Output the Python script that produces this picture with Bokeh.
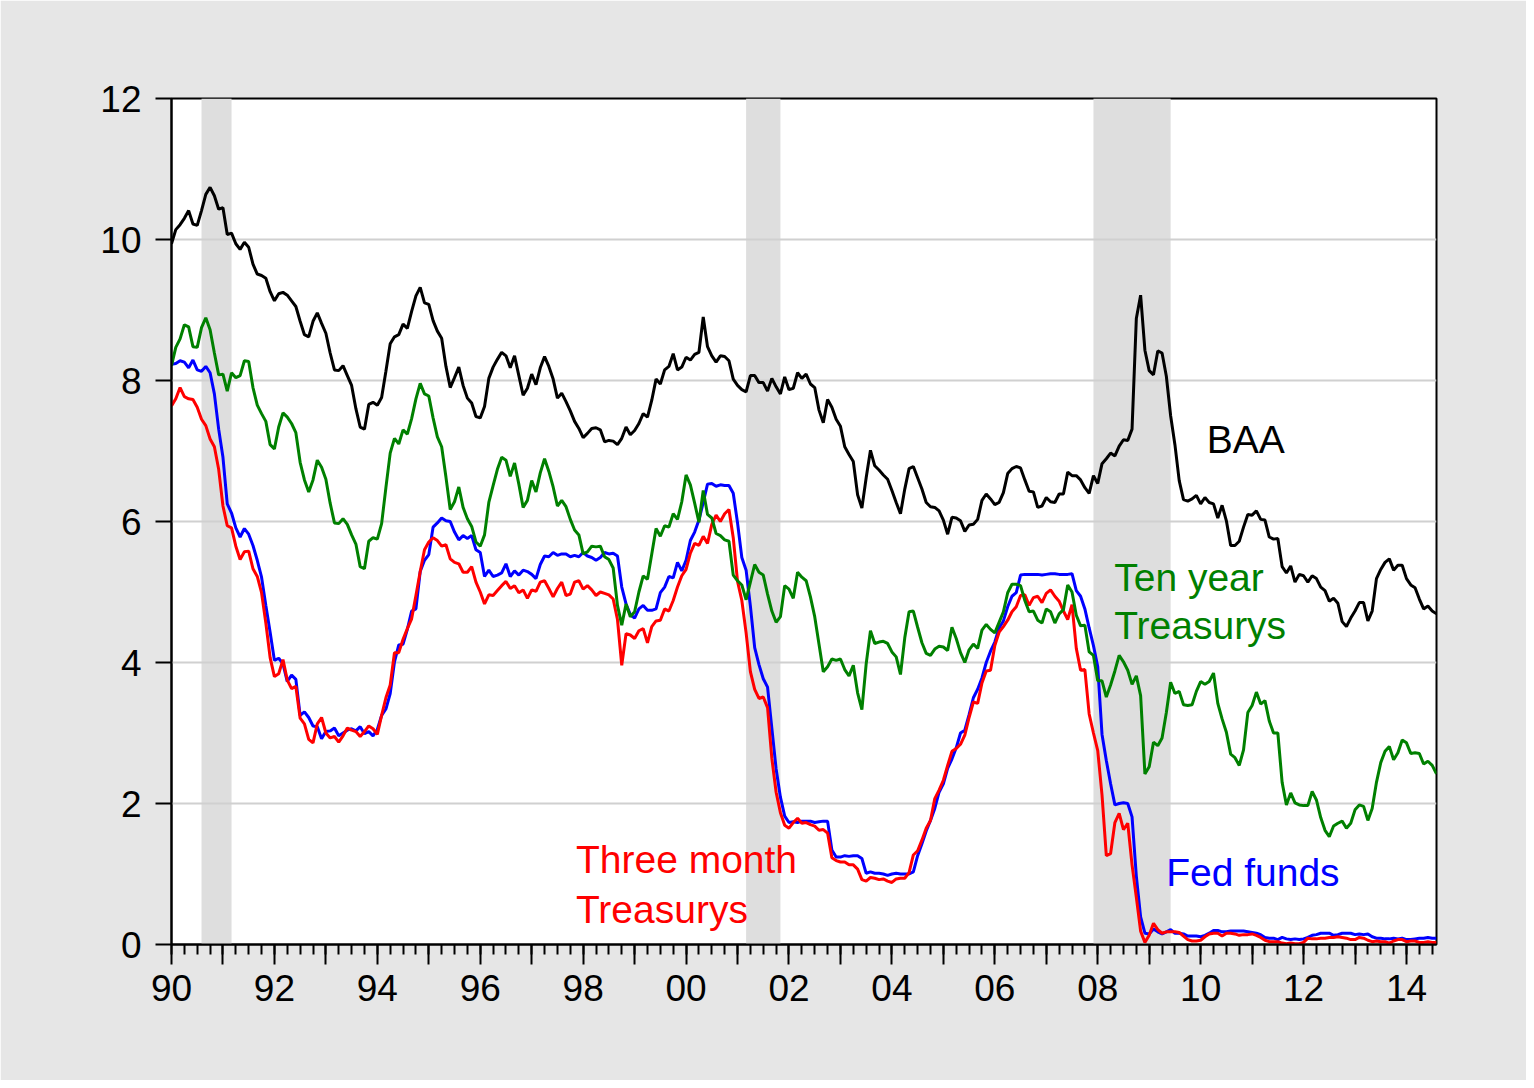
from bokeh.plotting import figure
from bokeh.models import Range1d, FixedTicker, Label
from bokeh.embed import file_html
from bokeh.resources import INLINE

# Monthly data, 1990M01 - 2014M08
baa = [
    9.94, 10.14, 10.21, 10.30, 10.41, 10.22, 10.20, 10.41, 10.64, 10.74, 10.62, 10.43,
    10.45, 10.07, 10.09, 9.94, 9.86, 9.96, 9.89, 9.65, 9.51, 9.49, 9.45, 9.26,
    9.13, 9.23, 9.25, 9.21, 9.13, 9.05, 8.84, 8.65, 8.62, 8.84, 8.96, 8.81,
    8.67, 8.39, 8.15, 8.14, 8.21, 8.07, 7.93, 7.60, 7.34, 7.31, 7.66, 7.69,
    7.65, 7.76, 8.13, 8.52, 8.62, 8.65, 8.80, 8.74, 8.98, 9.20, 9.32, 9.10,
    9.08, 8.85, 8.70, 8.60, 8.20, 7.90, 8.04, 8.19, 7.93, 7.75, 7.68, 7.49,
    7.47, 7.63, 8.03, 8.19, 8.30, 8.40, 8.35, 8.18, 8.35, 8.07, 7.79, 7.89,
    8.09, 7.94, 8.18, 8.34, 8.20, 8.02, 7.75, 7.82, 7.70, 7.57, 7.42, 7.32,
    7.19, 7.25, 7.32, 7.33, 7.30, 7.13, 7.15, 7.14, 7.09, 7.18, 7.34, 7.23,
    7.29, 7.39, 7.53, 7.48, 7.72, 8.02, 7.95, 8.15, 8.20, 8.38, 8.15, 8.19,
    8.33, 8.29, 8.37, 8.40, 8.90, 8.48, 8.35, 8.26, 8.35, 8.34, 8.28, 8.02,
    7.93, 7.87, 7.84, 8.07, 8.07, 7.97, 7.97, 7.85, 8.03, 7.91, 7.81, 8.05,
    7.87, 7.89, 8.11, 8.03, 8.09, 7.95, 7.90, 7.58, 7.40, 7.73, 7.62, 7.45,
    7.35, 7.06, 6.95, 6.85, 6.38, 6.19, 6.62, 7.01, 6.79, 6.73, 6.66, 6.60,
    6.44, 6.27, 6.11, 6.46, 6.75, 6.78, 6.62, 6.46, 6.27, 6.21, 6.20, 6.15,
    6.02, 5.82, 6.06, 6.05, 6.01, 5.86, 5.95, 5.96, 6.03, 6.30, 6.39, 6.32,
    6.24, 6.27, 6.41, 6.68, 6.75, 6.78, 6.76, 6.59, 6.43, 6.42, 6.20, 6.22,
    6.34, 6.28, 6.27, 6.39, 6.39, 6.70, 6.65, 6.65, 6.59, 6.48, 6.40, 6.65,
    6.54, 6.82, 6.89, 6.97, 6.93, 7.07, 7.16, 7.15, 7.31, 8.88, 9.21, 8.43,
    8.14, 8.08, 8.42, 8.39, 8.06, 7.50, 7.09, 6.58, 6.31, 6.29, 6.32, 6.37,
    6.25, 6.34, 6.27, 6.25, 6.05, 6.23, 6.01, 5.66, 5.66, 5.72, 5.92, 6.10,
    6.09, 6.15, 6.03, 6.02, 5.78, 5.75, 5.76, 5.36, 5.27, 5.37, 5.14, 5.25,
    5.23, 5.14, 5.23, 5.19, 5.07, 5.02, 4.87, 4.91, 4.84, 4.58, 4.51, 4.63,
    4.73, 4.85, 4.85, 4.59, 4.73, 5.19, 5.32, 5.42, 5.47, 5.31, 5.38, 5.38,
    5.19, 5.10, 5.06, 4.90, 4.76, 4.80, 4.73, 4.69,
]

ten_year = [
    8.21, 8.47, 8.59, 8.79, 8.76, 8.48, 8.47, 8.75, 8.89, 8.72, 8.39, 8.08,
    8.09, 7.85, 8.11, 8.04, 8.07, 8.28, 8.27, 7.90, 7.65, 7.53, 7.42, 7.09,
    7.03, 7.34, 7.54, 7.48, 7.39, 7.26, 6.84, 6.59, 6.42, 6.59, 6.87, 6.77,
    6.60, 6.26, 5.98, 5.97, 6.04, 5.96, 5.81, 5.68, 5.36, 5.33, 5.72, 5.77,
    5.75, 5.97, 6.48, 6.97, 7.18, 7.10, 7.30, 7.24, 7.46, 7.74, 7.96, 7.81,
    7.78, 7.47, 7.20, 7.06, 6.63, 6.17, 6.28, 6.49, 6.20, 6.04, 5.93, 5.71,
    5.65, 5.81, 6.27, 6.51, 6.74, 6.91, 6.87, 6.64, 6.83, 6.53, 6.20, 6.30,
    6.58, 6.42, 6.69, 6.89, 6.71, 6.49, 6.22, 6.30, 6.21, 6.03, 5.88, 5.81,
    5.54, 5.57, 5.65, 5.64, 5.65, 5.50, 5.46, 5.34, 4.81, 4.53, 4.83, 4.65,
    4.72, 5.00, 5.23, 5.18, 5.54, 5.90, 5.79, 5.94, 5.92, 6.11, 6.03, 6.28,
    6.66, 6.52, 6.26, 5.99, 6.44, 6.10, 6.05, 5.83, 5.80, 5.74, 5.72, 5.24,
    5.16, 5.10, 4.89, 5.14, 5.39, 5.28, 5.24, 4.97, 4.73, 4.57, 4.65, 5.09,
    5.04, 4.91, 5.28, 5.21, 5.16, 4.93, 4.65, 4.26, 3.87, 3.94, 4.05, 4.03,
    4.05, 3.90, 3.81, 3.96, 3.57, 3.33, 3.98, 4.45, 4.27, 4.29, 4.30, 4.27,
    4.15, 4.08, 3.83, 4.35, 4.72, 4.73, 4.50, 4.28, 4.13, 4.10, 4.19, 4.23,
    4.22, 4.17, 4.50, 4.34, 4.14, 4.00, 4.18, 4.26, 4.20, 4.46, 4.54, 4.47,
    4.42, 4.57, 4.72, 4.99, 5.11, 5.11, 5.09, 4.88, 4.72, 4.73, 4.60, 4.56,
    4.76, 4.72, 4.56, 4.69, 4.75, 5.10, 5.00, 4.67, 4.52, 4.53, 4.15, 4.10,
    3.74, 3.74, 3.51, 3.68, 3.88, 4.10, 4.01, 3.89, 3.69, 3.81, 3.53, 2.42,
    2.52, 2.87, 2.82, 2.93, 3.29, 3.72, 3.56, 3.59, 3.40, 3.39, 3.40, 3.59,
    3.73, 3.69, 3.73, 3.85, 3.42, 3.20, 3.01, 2.70, 2.65, 2.54, 2.76, 3.29,
    3.39, 3.58, 3.41, 3.46, 3.17, 3.00, 3.00, 2.30, 1.98, 2.15, 2.01, 1.98,
    1.97, 1.97, 2.17, 2.05, 1.80, 1.62, 1.53, 1.68, 1.72, 1.75, 1.65, 1.72,
    1.91, 1.98, 1.96, 1.76, 1.93, 2.30, 2.58, 2.74, 2.81, 2.62, 2.72, 2.90,
    2.86, 2.71, 2.72, 2.71, 2.56, 2.60, 2.54, 2.42,
]

fed_funds = [
    8.23, 8.24, 8.28, 8.26, 8.18, 8.29, 8.15, 8.13, 8.20, 8.11, 7.81, 7.31,
    6.91, 6.25, 6.12, 5.91, 5.78, 5.90, 5.82, 5.66, 5.45, 5.21, 4.81, 4.43,
    4.03, 4.06, 3.98, 3.73, 3.82, 3.76, 3.25, 3.30, 3.22, 3.10, 3.09, 2.92,
    3.02, 3.03, 3.07, 2.96, 3.00, 3.04, 3.06, 3.03, 3.09, 2.99, 3.02, 2.96,
    3.05, 3.25, 3.34, 3.56, 4.01, 4.25, 4.26, 4.47, 4.73, 4.76, 5.29, 5.45,
    5.53, 5.92, 5.98, 6.05, 6.01, 6.00, 5.85, 5.74, 5.80, 5.76, 5.80, 5.60,
    5.56, 5.22, 5.31, 5.22, 5.24, 5.27, 5.40, 5.22, 5.30, 5.24, 5.31, 5.29,
    5.25, 5.19, 5.39, 5.51, 5.50, 5.56, 5.52, 5.54, 5.54, 5.50, 5.52, 5.50,
    5.56, 5.51, 5.49, 5.45, 5.49, 5.56, 5.54, 5.55, 5.51, 5.07, 4.83, 4.68,
    4.63, 4.76, 4.81, 4.74, 4.74, 4.76, 4.99, 5.07, 5.22, 5.20, 5.42, 5.30,
    5.45, 5.73, 5.85, 6.02, 6.27, 6.53, 6.54, 6.50, 6.52, 6.51, 6.51, 6.40,
    5.98, 5.49, 5.31, 4.80, 4.21, 3.97, 3.77, 3.65, 3.07, 2.49, 2.09, 1.82,
    1.73, 1.74, 1.73, 1.75, 1.75, 1.75, 1.73, 1.74, 1.75, 1.75, 1.34, 1.24,
    1.24, 1.26, 1.25, 1.26, 1.26, 1.22, 1.01, 1.03, 1.01, 1.01, 1.00, 0.98,
    1.00, 1.01, 1.00, 1.00, 1.00, 1.03, 1.26, 1.43, 1.61, 1.76, 1.93, 2.16,
    2.28, 2.50, 2.63, 2.79, 3.00, 3.04, 3.26, 3.50, 3.62, 3.78, 4.00, 4.16,
    4.29, 4.49, 4.59, 4.79, 4.94, 4.99, 5.24, 5.25, 5.25, 5.25, 5.25, 5.24,
    5.25, 5.26, 5.26, 5.25, 5.25, 5.25, 5.26, 5.02, 4.94, 4.76, 4.49, 4.24,
    3.94, 2.98, 2.61, 2.28, 1.98, 2.00, 2.01, 2.00, 1.81, 0.97, 0.39, 0.16,
    0.15, 0.22, 0.18, 0.15, 0.18, 0.21, 0.16, 0.16, 0.15, 0.12, 0.12, 0.12,
    0.11, 0.13, 0.16, 0.20, 0.20, 0.18, 0.18, 0.19, 0.19, 0.19, 0.19, 0.18,
    0.17, 0.16, 0.14, 0.10, 0.09, 0.09, 0.07, 0.10, 0.08, 0.07, 0.08, 0.07,
    0.08, 0.10, 0.13, 0.14, 0.16, 0.16, 0.16, 0.13, 0.14, 0.16, 0.16, 0.16,
    0.14, 0.15, 0.14, 0.15, 0.11, 0.09, 0.09, 0.08, 0.08, 0.09, 0.08, 0.09,
    0.07, 0.07, 0.08, 0.09, 0.09, 0.10, 0.09, 0.09,
]

three_month = [
    7.64, 7.74, 7.90, 7.77, 7.74, 7.73, 7.62, 7.45, 7.36, 7.17, 7.06, 6.74,
    6.22, 5.94, 5.91, 5.65, 5.46, 5.57, 5.58, 5.33, 5.22, 4.99, 4.56, 4.07,
    3.80, 3.84, 4.04, 3.75, 3.63, 3.66, 3.21, 3.13, 2.91, 2.86, 3.13, 3.22,
    3.00, 2.93, 2.95, 2.87, 2.96, 3.07, 3.04, 3.02, 2.95, 3.02, 3.10, 3.06,
    2.98, 3.25, 3.50, 3.68, 4.14, 4.14, 4.33, 4.48, 4.62, 4.95, 5.29, 5.60,
    5.71, 5.77, 5.73, 5.65, 5.67, 5.47, 5.42, 5.40, 5.28, 5.28, 5.36, 5.14,
    5.00, 4.83, 4.96, 4.95, 5.02, 5.09, 5.15, 5.05, 5.09, 4.99, 5.03, 4.91,
    5.03, 5.01, 5.14, 5.16, 5.05, 4.93, 5.05, 5.14, 4.95, 4.97, 5.14, 5.16,
    5.04, 5.09, 5.03, 4.95, 5.00, 4.98, 4.96, 4.90, 4.61, 3.96, 4.41, 4.39,
    4.34, 4.45, 4.48, 4.28, 4.51, 4.59, 4.60, 4.76, 4.73, 4.88, 5.07, 5.23,
    5.32, 5.55, 5.69, 5.66, 5.79, 5.69, 5.96, 6.09, 6.00, 6.11, 6.17, 5.77,
    5.15, 4.88, 4.42, 3.87, 3.62, 3.49, 3.51, 3.36, 2.64, 2.16, 1.87, 1.69,
    1.65, 1.73, 1.79, 1.72, 1.73, 1.70, 1.68, 1.62, 1.63, 1.58, 1.23, 1.19,
    1.17, 1.17, 1.13, 1.13, 1.07, 0.92, 0.90, 0.95, 0.94, 0.92, 0.93, 0.90,
    0.88, 0.93, 0.94, 0.94, 1.02, 1.27, 1.33, 1.48, 1.65, 1.76, 2.07, 2.19,
    2.33, 2.54, 2.74, 2.78, 2.84, 2.97, 3.22, 3.44, 3.42, 3.71, 3.88, 3.89,
    4.24, 4.43, 4.51, 4.60, 4.72, 4.79, 4.95, 4.96, 4.81, 4.92, 4.94, 4.85,
    4.98, 5.03, 4.94, 4.87, 4.73, 4.61, 4.82, 4.20, 3.89, 3.90, 3.27, 3.00,
    2.75, 2.12, 1.26, 1.29, 1.73, 1.86, 1.63, 1.72, 1.13, 0.67, 0.19, 0.03,
    0.13, 0.30, 0.21, 0.16, 0.18, 0.18, 0.18, 0.17, 0.12, 0.07, 0.05, 0.05,
    0.06, 0.11, 0.15, 0.16, 0.16, 0.12, 0.16, 0.16, 0.15, 0.13, 0.14, 0.14,
    0.15, 0.13, 0.10, 0.06, 0.04, 0.04, 0.04, 0.02, 0.01, 0.02, 0.01, 0.01,
    0.03, 0.09, 0.08, 0.08, 0.09, 0.09, 0.10, 0.10, 0.11, 0.10, 0.09, 0.07,
    0.07, 0.10, 0.09, 0.06, 0.04, 0.05, 0.04, 0.04, 0.02, 0.05, 0.07, 0.07,
    0.04, 0.05, 0.05, 0.03, 0.03, 0.04, 0.03, 0.03,
]

start_year = 1990
n_obs = len(baa)
dates = [start_year + i / 12 for i in range(n_obs)]

# Recession months (first and last month index from Jan 1990)
recession_start = [7, 134, 215]
recession_end = [14, 142, 233]

year_ticks = list(range(1990, 2015))
y_ticks = [0, 2, 4, 6, 8, 10, 12]

FONT = "Liberation Sans"
BG = "#e6e6e6"

p = figure(width=1526, height=1080, output_backend="svg", toolbar_location=None,
           x_range=Range1d(start_year, start_year + (n_obs - 1) / 12),
           y_range=Range1d(0, 12),
           min_border_left=171, min_border_right=90,
           min_border_top=98, min_border_bottom=136)

p.background_fill_color = "white"
p.border_fill_color = BG
p.outline_line_color = "black"
p.outline_line_width = 2

# recession shading
p.quad(left=[start_year + s / 12 for s in recession_start],
       right=[start_year + e / 12 for e in recession_end],
       bottom=0, top=12, fill_color="#dedede", line_color=None, level="image")

# grids
p.xgrid.grid_line_color = None
p.ygrid.grid_line_color = "#d0d0d0"
p.ygrid.grid_line_width = 2
p.ygrid.ticker = FixedTicker(ticks=y_ticks)

# series
LW = 3
p.line(dates, fed_funds, line_color="#0000ff", line_width=LW)
p.line(dates, three_month, line_color="#ff0000", line_width=LW)
p.line(dates, ten_year, line_color="#008000", line_width=LW)
p.line(dates, baa, line_color="black", line_width=LW)

# axes
xa = p.xaxis[0]
xa.ticker = FixedTicker(ticks=year_ticks,
                        minor_ticks=[y + q / 4 for y in year_ticks for q in range(4)])
xa.major_label_overrides = {y: (f"{y % 100:02d}" if y % 2 == 0 else "") for y in year_ticks}
xa.major_tick_out = 20
xa.major_tick_in = 0
xa.minor_tick_out = 10
xa.minor_tick_in = 0
xa.major_label_standoff = 10

ya = p.yaxis[0]
ya.ticker = FixedTicker(ticks=y_ticks)
ya.major_tick_out = 16
ya.major_tick_in = 0
ya.minor_tick_line_color = None
ya.major_label_standoff = 14

for ax in (xa, ya):
    ax.axis_line_width = 2
    ax.axis_line_color = "black"
    ax.major_tick_line_width = 2
    ax.major_tick_line_color = "black"
    ax.minor_tick_line_width = 2
    ax.major_label_text_font = FONT
    ax.major_label_text_font_size = "37px"
    ax.major_label_text_color = "black"

def add_label(text, x, y, color):
    p.add_layout(Label(x=x, y=y, text=text, text_color=color, text_font=FONT,
                       text_font_size="39px", text_baseline="alphabetic",
                       text_align="left"))

add_label("BAA", 2010.12, 7.16, "black")
add_label("Ten year", 2008.32, 5.21, "#008000")
add_label("Treasurys", 2008.32, 4.52, "#008000")
add_label("Three month", 1997.86, 1.21, "#ff0000")
add_label("Treasurys", 1997.86, 0.50, "#ff0000")
add_label("Fed funds", 2009.33, 1.02, "#0000ff")

open("out.html", "w").write(file_html(p, INLINE))
